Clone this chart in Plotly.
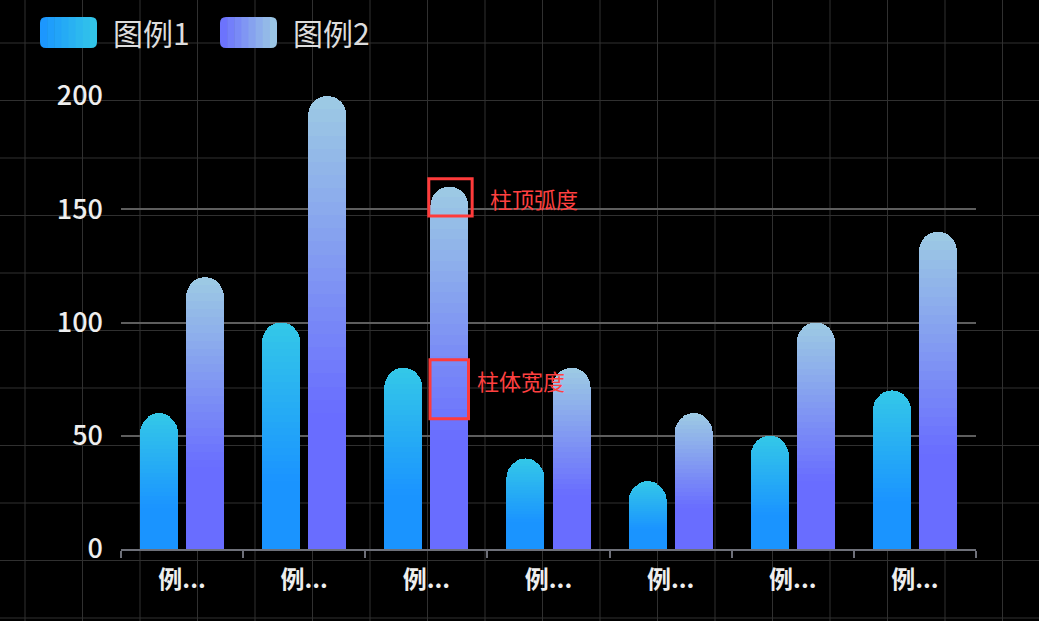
import plotly.graph_objects as go

categories = ["例子1", "例子2", "例子3", "例子4", "例子5", "例子6", "例子7"]
tick_labels = ["例...", "例...", "例...", "例...", "例...", "例...", "例..."]
series_names = ["图例1", "图例2"]
values_1 = [60, 100, 80, 40, 30, 50, 70]
values_2 = [120, 200, 160, 80, 60, 100, 140]
y_ticks = [0, 50, 100, 150, 200]

# bottom colour, top colour of each series
grad_1 = ("#1a94ff", "#34c8e8")
grad_2 = ("#696dff", "#9dcbe3")
SOLID = 0.3   # lower part of a bar keeps the bottom colour
STEPS = 24

W, H = 1039, 621
L, R, T, B = 121, 63, 96, 72
PW, PH = W - L - R, H - T - B


def px(x):
    return (x - L) / PW


def py(y):
    return 1 - (y - T) / PH


def mix(c1, c2, t):
    a = [int(c1[i:i + 2], 16) for i in (1, 3, 5)]
    b = [int(c2[i:i + 2], 16) for i in (1, 3, 5)]
    return "rgb({},{},{})".format(*[round(a[i] + (b[i] - a[i]) * t) for i in range(3)])


fig = go.Figure()


def add_gradient_bars(values, colors, group, name):
    # one solid piece at the bottom, then thin slices fading to the top colour
    fig.add_trace(go.Bar(x=categories, y=[v * SOLID for v in values], offsetgroup=group,
                         marker=dict(color=colors[0], line_width=0), name=name,
                         customdata=values, hovertemplate="%{x}: %{customdata}", showlegend=False))
    for k in range(STEPS):
        t = (k + 0.5) / STEPS
        fig.add_trace(go.Bar(x=categories, y=[v * (1 - SOLID) / STEPS for v in values], offsetgroup=group,
                             marker=dict(color=mix(colors[0], colors[1], t), line_width=0),
                             hoverinfo="skip", showlegend=False))


add_gradient_bars(values_1, grad_1, "1", series_names[0])
add_gradient_bars(values_2, grad_2, "2", series_names[1])

shapes = []
# page background grid
for k in range(19):
    x = 25 + 57.5 * k
    shapes.append(dict(type="line", xref="paper", yref="paper", x0=px(x), x1=px(x), y0=py(0), y1=py(H),
                       line=dict(color="#303030", width=1), layer="below"))
for k in range(11):
    y = 43 + 57.5 * k
    shapes.append(dict(type="line", xref="paper", yref="paper", x0=px(0), x1=px(W), y0=py(y), y1=py(y),
                       line=dict(color="#303030", width=1), layer="below"))


# legend swatches: rounded boxes made of a few strips to fake the gradient
def swatch(x0, y0, x1, y1, colors, n=8, r=6):
    w = (x1 - x0) / n
    for i in range(n):
        a, b = x0 + i * w, min(x0 + (i + 1) * w + 0.6, x1)
        if i == 0:
            path = "M{},{} L{},{} L{},{} Q{},{} {},{} L{},{} Q{},{} {},{} Z".format(
                px(b), py(y0), px(b), py(y1), px(a + r), py(y1), px(a), py(y1), px(a), py(y1 - r),
                px(a), py(y0 + r), px(a), py(y0), px(a + r), py(y0))
        elif i == n - 1:
            path = "M{},{} L{},{} Q{},{} {},{} L{},{} Q{},{} {},{} L{},{} Z".format(
                px(a), py(y0), px(b - r), py(y0), px(b), py(y0), px(b), py(y0 + r), px(b), py(y1 - r),
                px(b), py(y1), px(b - r), py(y1), px(a), py(y1))
        else:
            path = "M{},{} L{},{} L{},{} L{},{} Z".format(px(a), py(y0), px(b), py(y0), px(b), py(y1), px(a), py(y1))
        shapes.append(dict(type="path", xref="paper", yref="paper", path=path,
                           fillcolor=mix(colors[0], colors[1], (i + 0.5) / n), line_width=0))


swatch(40, 17, 97, 48, grad_1)
swatch(220, 17, 277, 48, grad_2)

# red marker boxes on the third group
shapes.append(dict(type="rect", xref="x", yref="y", x0=2.02, x1=2.375, y0=147, y1=163.5,
                   line=dict(color="#ff3b3b", width=3)))
shapes.append(dict(type="rect", xref="x", yref="y", x0=2.03, x1=2.345, y0=57.5, y1=83.5,
                   line=dict(color="#ff3b3b", width=3)))

annotations = [
    dict(x=px(111), y=py(32), xref="paper", yref="paper", text=series_names[0], showarrow=False,
         xanchor="left", yanchor="middle", font=dict(size=30, color="#dddddd")),
    dict(x=px(291), y=py(32), xref="paper", yref="paper", text=series_names[1], showarrow=False,
         xanchor="left", yanchor="middle", font=dict(size=30, color="#dddddd")),
    dict(x=2.505, y=155, xref="x", yref="y", text="柱顶弧度", showarrow=False,
         xanchor="left", yanchor="middle", font=dict(size=22, color="#ff4040")),
    dict(x=2.4, y=74.5, xref="x", yref="y", text="柱体宽度", showarrow=False,
         xanchor="left", yanchor="middle", font=dict(size=22, color="#ff4040")),
]

fig.update_layout(
    width=W, height=H,
    margin=dict(l=L, r=R, t=T, b=B),
    paper_bgcolor="#000000", plot_bgcolor="rgba(0,0,0,0)",
    font=dict(family="Noto Sans CJK SC", color="#eeeeee"),
    barmode="stack", bargap=0.246, bargroupgap=0.174, barcornerradius="50%",
    showlegend=False,
    shapes=shapes, annotations=annotations,
)
fig.update_xaxes(type="category", categoryorder="array", categoryarray=categories,
                 tickmode="array", tickvals=categories, ticktext=tick_labels,
                 tickson="boundaries", ticks="outside", ticklen=7, tickwidth=2, tickcolor="#6e7079",
                 showline=True, linecolor="#6e7079", linewidth=2, showgrid=False,
                 tickfont=dict(size=24, color="#eeeeee", weight="bold"), ticklabelstandoff=8)
fig.update_yaxes(range=[0, 200], tickvals=y_ticks, showgrid=True, gridcolor="#5e5e5e", gridwidth=2,
                 zeroline=False, showline=False, ticks="",
                 tickfont=dict(size=27, color="#eeeeee", weight=500), ticklabelstandoff=17)

# the page has a default body margin; drop it so the figure sits flush in the window
fig.write_html("out.html", config={"displayModeBar": False},
               post_script="document.body.style.margin='0';document.body.style.background='#000';")
